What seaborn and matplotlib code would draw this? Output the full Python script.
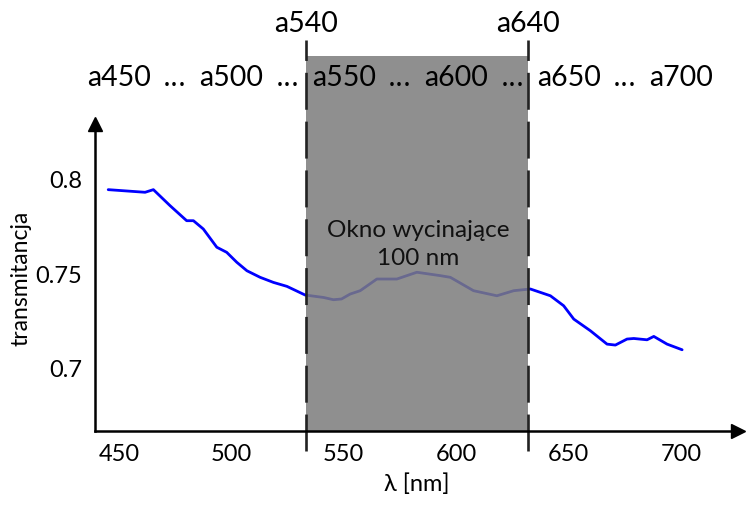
import matplotlib
matplotlib.use("Agg")
import matplotlib.pyplot as plt
import matplotlib.transforms as mtransforms
import seaborn as sns
import pandas as pd

# ---- data ----
wavelength = [445.2, 461.6, 465.3, 472.7, 480.1, 483.1, 487.5, 493.5, 497.9, 502.4,
              506.9, 512.8, 518.7, 524.7, 532.8, 541.0, 545.4, 549.0, 552.8, 557.3,
              564.7, 573.6, 582.5, 592.9, 597.4, 607.7, 618.1, 625.6, 633.0, 641.9,
              647.8, 652.3, 659.7, 667.1, 670.8, 676.0, 679.0, 684.9, 687.9, 693.8, 700.5]
transmittance = [0.7943, 0.7929, 0.7943, 0.7858, 0.7778, 0.7778, 0.7734, 0.7637, 0.7610, 0.7557,
                 0.7512, 0.7477, 0.7450, 0.7429, 0.7383, 0.7370, 0.7358, 0.7362, 0.7388, 0.7406,
                 0.7468, 0.7468, 0.7504, 0.7486, 0.7477, 0.7406, 0.7379, 0.7406, 0.7415, 0.7379,
                 0.7326, 0.7255, 0.7193, 0.7122, 0.7117, 0.7149, 0.7152, 0.7145, 0.7163, 0.7122, 0.7092]
x_ticks = [450, 500, 550, 600, 650, 700]
y_ticks = [0.7, 0.75, 0.8]
y_tick_labels = ["0.7", "0.75", "0.8"]
top_labels = ["a450", "a500", "a550", "a600", "a650", "a700"]
window = [533.0, 632.1]
window_labels = ["a540", "a640"]
window_text = "Okno wycinające\n100 nm"

sns.set_theme(style="white")
plt.rcParams['font.family'] = ['Lato', 'DejaVu Sans']

fig = plt.figure(figsize=(7.46, 5.06), dpi=100)
W, H = 746, 506
left, right, bottom, top = 95, 738, 432, 125
ax = fig.add_axes([left / W, (H - bottom) / H, (right - left) / W, (bottom - top) / H])

df = pd.DataFrame({"wl": wavelength, "T": transmittance})
sns.lineplot(data=df, x="wl", y="T", ax=ax, color="#0000ff", linewidth=2.0, zorder=2)

px_per_unit = 2.248
x0 = 450 + (left - 119) / px_per_unit
x1 = 450 + (right - 119) / px_per_unit
ppy = 94.2 / 0.05
y0 = 0.7 - (bottom - 368) / ppy
y1 = 0.8 + (180 - top) / ppy
ax.set_xlim(x0, x1)
ax.set_ylim(y0, y1)

# spines / arrows
for s in ["top", "right"]:
    ax.spines[s].set_visible(False)
for s in ["left", "bottom"]:
    ax.spines[s].set_linewidth(1.8)
    ax.spines[s].set_color("black")
    ax.spines[s].set_zorder(5)
ax.plot(1, 0, ">", color="black", markersize=10, transform=ax.transAxes, clip_on=False, zorder=6)
ax.plot(0, 1, "^", color="black", markersize=10, transform=ax.transAxes, clip_on=False, zorder=6)

ax.set_xticks(x_ticks)
ax.set_yticks(y_ticks)
ax.set_yticklabels(y_tick_labels)
ax.tick_params(direction="in", length=8.5, width=1.3, color="black", labelsize=17,
               labelcolor="black", pad=9)
ax.tick_params(axis="x", pad=9)
ax.set_xlabel("λ [nm]", fontsize=17, color="black", labelpad=6)
ax.set_ylabel("transmitancja", fontsize=16.5, color="black")
ax.yaxis.label.set_verticalalignment("center")
ax.yaxis.set_label_coords((21 - left) / (right - left), 0.5)

# window region
frac_top_rect = (bottom - 57) / (bottom - top)
ax.axvspan(window[0], window[1], ymin=0, ymax=frac_top_rect, color="#7c7c7c", alpha=0.85,
           lw=0, zorder=3, clip_on=False)
trans = mtransforms.blended_transform_factory(ax.transData, ax.transAxes)
dash_top = (bottom - 41) / (bottom - top)
dash_bot = (bottom - 452) / (bottom - top)
for xv, lab in zip(window, window_labels):
    ax.plot([xv, xv], [dash_bot, dash_top], transform=trans, color="#222222", lw=1.9,
            dashes=(14, 4.5), clip_on=False, zorder=4)
    ax.text(xv, (bottom - 32) / (bottom - top), lab, transform=trans, ha="center",
            va="baseline", fontsize=20.5, color="black", zorder=7)

row_y = (bottom - 86) / (bottom - top)
for i, lab in enumerate(top_labels):
    ax.text(x_ticks[i], row_y, lab, transform=trans, ha="center", va="baseline",
            fontsize=20.5, color="black", zorder=7)
    if i < len(top_labels) - 1:
        ax.text((x_ticks[i] + x_ticks[i + 1]) / 2, row_y, "...", transform=trans,
                ha="center", va="baseline", fontsize=22, family="Open Sans",
                color="black", zorder=7)

ax.text(583, 0.7655, window_text, ha="center", va="center", fontsize=17.5,
        color="#111111", linespacing=1.4, zorder=7)

fig.savefig("out.png", dpi=100)
